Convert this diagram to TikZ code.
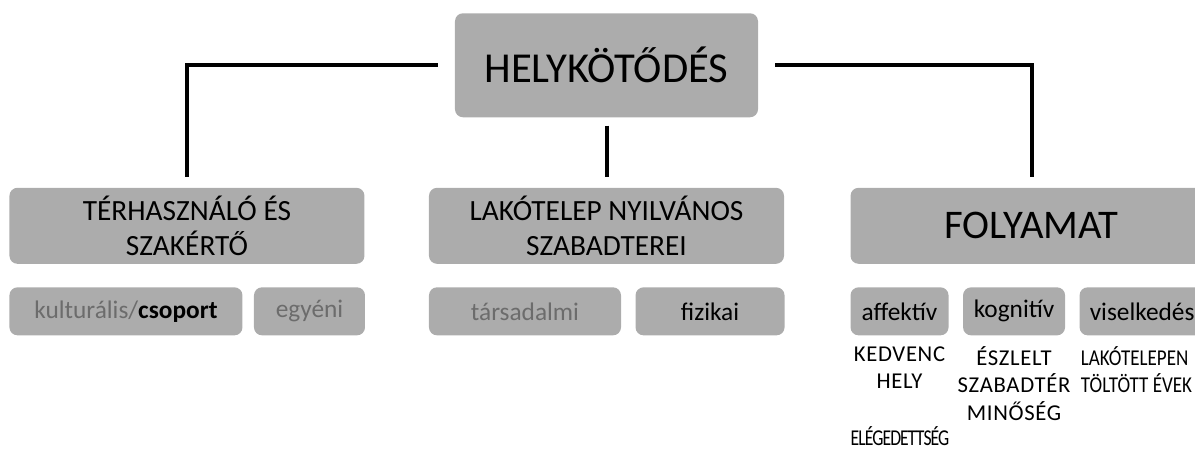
\documentclass[tikz,border=0pt]{standalone}
\usepackage{fontspec}
\setmainfont{Carlito}
\newfontfamily\spacedfont[LetterSpace=3]{Carlito}
\newfontfamily\narrowfont[FakeStretch=0.84]{Carlito}
\newfontfamily\tightfont[FakeStretch=0.78,LetterSpace=-4]{Carlito}
\usetikzlibrary{positioning, calc}
\definecolor{boxcolor}{RGB}{172, 172, 172}
\definecolor{fadedcolor}{RGB}{108, 108, 108}

\begin{document}
\begin{tikzpicture}[
    node distance=17.25pt and 10.5pt,
    topbox/.style={rectangle, fill=boxcolor, rounded corners=6pt, minimum width=227.25pt, minimum height=78pt, inner sep=0pt, font=\fontsize{32}{38}\selectfont},
    midbox/.style={rectangle, fill=boxcolor, rounded corners=6pt, minimum width=266.25pt, minimum height=57pt, inner sep=0pt, align=center, font=\fontsize{22}{26}\selectfont},
    smallbox/.style={rectangle, fill=boxcolor, rounded corners=6pt, minimum height=36pt, inner sep=0pt, align=center, font=\fontsize{19}{22}\selectfont},
    itemtext/.style={inner sep=0pt, align=center, font=\spacedfont\fontsize{17}{20.5}\selectfont, execute at begin node=\vphantom{É}},
    link/.style={line width=3pt},
]

% ============ top ============
\node[topbox] (helyk) {HELYKÖTŐDÉS};
\useasboundingbox ($(helyk.north)+(-454.875pt,9.75pt)$) rectangle ++(896.25pt,-337.5pt);

% ============ second level ============
\node[midbox, below=52.5pt of helyk] (lakotelep) {LAKÓTELEP NYILVÁNOS\\SZABADTEREI};
\node[midbox, left=48pt of lakotelep] (terhasz) {TÉRHASZNÁLÓ ÉS\\SZAKÉRTŐ};
\node[midbox, right=49.5pt of lakotelep, minimum width=271.5pt, font=\fontsize{30.5}{36}\selectfont] (folyamat) {FOLYAMAT};

% ============ third level ============
\node[smallbox, minimum width=174.75pt, below right=17.25pt and 0pt of terhasz.south west] (kult) {\textcolor{fadedcolor}{kulturális/}\textbf{csoport}};
\node[smallbox, minimum width=83.25pt, right=8.25pt of kult, text=fadedcolor] (egyeni) {egyéni};

\node[smallbox, minimum width=144pt, below right=17.25pt and 0pt of lakotelep.south west, text=fadedcolor] (tars) {társadalmi};
\node[smallbox, minimum width=111.75pt, right=of tars] (fiz) {fizikai};

\node[smallbox, minimum width=73.5pt, below right=17.25pt and 0pt of folyamat.south west] (aff) {affektív};
\node[smallbox, minimum width=76.5pt, right=of aff] (kogn) {kognitív};
\node[smallbox, minimum width=93.75pt, right=of kogn] (visel) {viselkedés};

% ============ items ============
\node[itemtext, below=8pt of aff] (kedvenc) {KEDVENC\\HELY};
\node[itemtext, below=8pt of kogn] (eszlelt) {ÉSZLELT\\SZABADTÉR\\MINŐSÉG};
\node[itemtext, align=left, font=\narrowfont\fontsize{17}{20.5}\selectfont, below right=8pt and 1pt of visel.south west] (evek) {LAKÓTELEPEN\\TÖLTÖTT ÉVEK};
\node[itemtext, font=\tightfont\fontsize{17}{20.5}\selectfont, below right=68pt and 0pt of aff.south west] (eleg) {ELÉGEDETTSÉG};

% ============ connectors ============
\draw[link] ([xshift=-12.75pt]helyk.west) -| ([yshift=8.25pt]terhasz.north);
\draw[link] ([yshift=-6pt]helyk.south) -- ([yshift=8.25pt]lakotelep.north);
\draw[link] ([xshift=12.75pt]helyk.east) -| ([yshift=8.25pt]folyamat.north);

\end{tikzpicture}
\end{document}
